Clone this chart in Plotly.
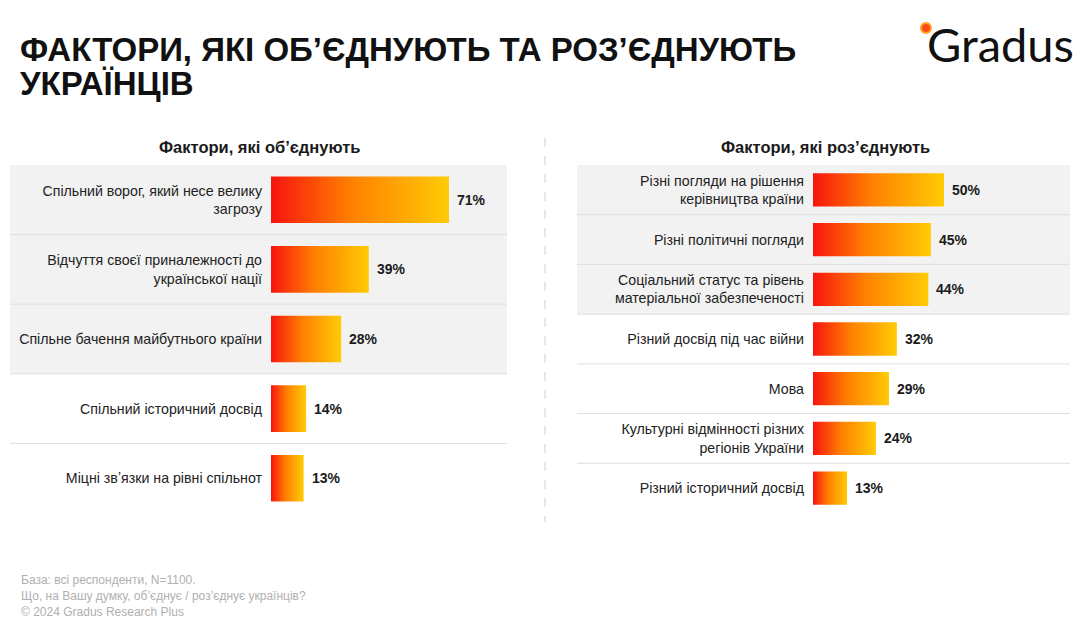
import plotly.graph_objects as go

W, H = 1088, 620
OFF = 8  # page body margin

title_lines = ["ФАКТОРИ, ЯКІ ОБ’ЄДНУЮТЬ ТА РОЗ’ЄДНУЮТЬ", "УКРАЇНЦІВ"]
unite_title = "Фактори, які об’єднують"
divide_title = "Фактори, які роз’єднують"

unite_labels = [
    "Спільний ворог, який несе велику<br>загрозу",
    "Відчуття своєї приналежності до<br>української нації",
    "Спільне бачення майбутнього країни",
    "Спільний історичний досвід",
    "Міцні звʼязки на рівні спільнот",
]
unite_values = [71, 39, 28, 14, 13]

divide_labels = [
    "Різні погляди на рішення<br>керівництва країни",
    "Різні політичні погляди",
    "Соціальний статус та рівень<br>матеріальної забезпеченості",
    "Різний досвід під час війни",
    "Мова",
    "Культурні відмінності різних<br>регіонів України",
    "Різний історичний досвід",
]
divide_values = [50, 45, 44, 32, 29, 24, 13]

footer_lines = [
    "База: всі респонденти, N=1100.",
    "Що, на Вашу думку, об’єднує / роз’єднує українців?",
    "© 2024 Gradus Research Plus",
]
shaded_rows = 3

FONT = "Liberation Sans, Arial, sans-serif"
GRAD = [[0, "#f7140f"], [0.45, "#ff8000"], [1, "#ffcb05"]]
HALF = 0.335


def px(x):
    return (x - OFF) / W


def py(y):
    return 1 - (y - OFF) / H


fig = go.Figure()
annotations = []
shapes = []

panels = [
    dict(labels=unite_labels, values=unite_values, xa="x", ya="y",
         dom=(271, 507), bg=(10, 507), scale=2.507, title=unite_title, tx=259),
    dict(labels=divide_labels, values=divide_values, xa="x2", ya="y2",
         dom=(813, 1070), bg=(577, 1070), scale=2.62, title=divide_title, tx=825),
]

for p in panels:
    n = len(p["values"])
    for i, v in enumerate(p["values"]):
        fig.add_trace(go.Scatter(
            x=[0, v, v, 0, 0],
            y=[i - HALF, i - HALF, i + HALF, i + HALF, i - HALF],
            xaxis=p["xa"], yaxis=p["ya"],
            mode="lines", line=dict(width=0),
            fill="toself",
            fillgradient=dict(type="horizontal", colorscale=GRAD, start=0, stop=v),
            hoverinfo="skip", showlegend=False,
        ))
        annotations.append(dict(
            x=v, y=i, xref=p["xa"], yref=p["ya"], text=f"<b>{v}%</b>",
            showarrow=False, xanchor="left", xshift=6,
            font=dict(family=FONT, size=14, color="#1a1a1a"),
        ))
        if i < shaded_rows:
            shapes.append(dict(type="rect", xref="paper", yref=p["ya"],
                               x0=px(p["bg"][0]), x1=px(p["bg"][1]),
                               y0=i - 0.5, y1=i + 0.5,
                               fillcolor="#f2f2f2", line=dict(width=0), layer="below"))
        if i > 0:
            shapes.append(dict(type="line", xref="paper", yref=p["ya"],
                               x0=px(p["bg"][0]), x1=px(p["bg"][1]),
                               y0=i - 0.5, y1=i - 0.5,
                               line=dict(color="#dedede", width=1), layer="below"))
    annotations.append(dict(
        x=px(p["tx"]), y=py(147), xref="paper", yref="paper",
        text=f"<b>{p['title']}</b>", showarrow=False,
        xanchor="center", yanchor="middle",
        font=dict(family=FONT, size=16.5, color="#1a1a1a"),
    ))
    rng = (p["dom"][1] - p["dom"][0]) / p["scale"]
    axn = p["xa"].replace("x", "xaxis")
    ayn = p["ya"].replace("y", "yaxis")
    fig.update_layout({
        axn: dict(domain=[px(p["dom"][0]), px(p["dom"][1])], range=[0, rng],
                  visible=False, fixedrange=True, anchor=p["ya"]),
        ayn: dict(domain=[py(513), py(165)], range=[n - 0.5, -0.5],
                  tickvals=list(range(n)), ticktext=p["labels"],
                  showgrid=False, zeroline=False, showline=False, ticks="",
                  ticklabelstandoff=8, automargin=False, anchor=p["xa"],
                  tickfont=dict(family=FONT, size=14.2, color="#222222"),
                  fixedrange=True),
    })

# dashed divider
shapes.append(dict(type="line", xref="paper", yref="paper",
                   x0=px(545), x1=px(545), y0=py(138), y1=py(522),
                   line=dict(color="#cfcfcf", width=1, dash="dash")))

# title
for line, yc in zip(title_lines, [49, 84]):
    annotations.append(dict(
        x=px(18), y=py(yc), xref="paper", yref="paper",
        text=f"<b>{line}</b>", showarrow=False,
        xanchor="left", yanchor="middle",
        font=dict(family=FONT, size=33, color="#111111"),
    ))

# logo
annotations.append(dict(
    x=px(925), y=py(44), xref="paper", yref="paper", text="Gradus",
    showarrow=False, xanchor="left", yanchor="middle",
    font=dict(family="Lato, sans-serif", size=47, color="#111111"),
))
shapes.append(dict(type="circle", xref="paper", yref="paper",
                   x0=px(921), x1=px(931), y0=py(33), y1=py(23),
                   fillcolor="#ff4a1a", line=dict(color="#ffa31a", width=2)))

# footer
for line, yc in zip(footer_lines, [580, 596, 612]):
    annotations.append(dict(
        x=px(19), y=py(yc), xref="paper", yref="paper", text=line,
        showarrow=False, xanchor="left", yanchor="middle",
        font=dict(family=FONT, size=12, color="#b0b0b0"),
    ))

fig.update_layout(
    width=W, height=H, margin=dict(l=0, r=0, t=0, b=0),
    paper_bgcolor="white", plot_bgcolor="rgba(0,0,0,0)",
    template="none", showlegend=False,
    annotations=annotations, shapes=shapes,
    font=dict(family=FONT),
)

fig.write_html("out.html")
